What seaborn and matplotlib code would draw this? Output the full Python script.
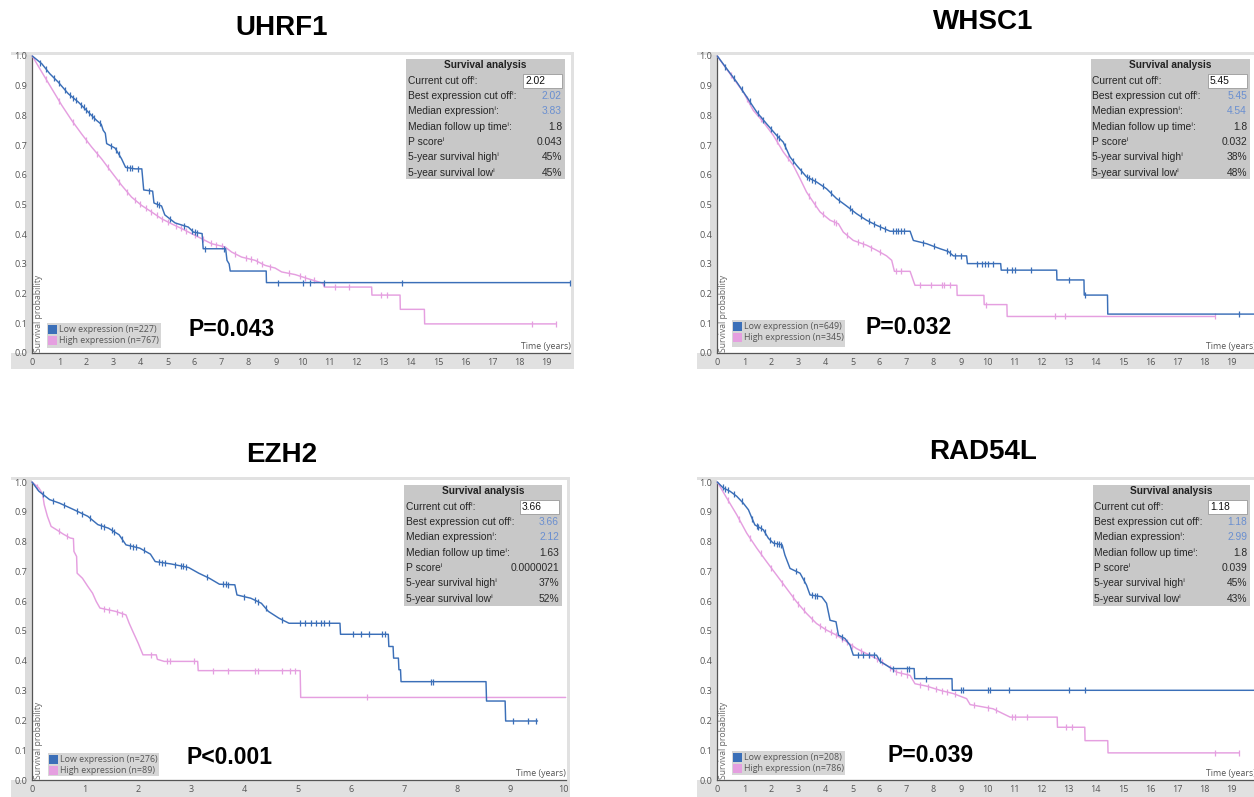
import numpy as np
import pandas as pd
import matplotlib
matplotlib.use("Agg")
import matplotlib.pyplot as plt
import seaborn as sns
from matplotlib.patches import Rectangle

# ------------------------------------------------------------------ data
genes = ["UHRF1", "WHSC1", "EZH2", "RAD54L"]
n_low = [227, 649, 276, 208]
n_high = [767, 345, 89, 786]
p_labels = ["P=0.043", "P=0.032", "P<0.001", "P=0.039"]
current_cutoff = ["2.02", "5.45", "3.66", "1.18"]
best_cutoff = ["2.02", "5.45", "3.66", "1.18"]
median_expr = ["3.83", "4.54", "2.12", "2.99"]
median_followup = ["1.8", "1.8", "1.63", "1.8"]
p_score = ["0.043", "0.032", "0.0000021", "0.039"]
surv5_high = ["45%", "38%", "37%", "45%"]
surv5_low = ["45%", "48%", "52%", "43%"]
x_tick_max = [19, 19, 10, 19]
x_lim_max = [19.9, 19.9, 10.05, 19.9]
y_ticks = [0.0, 0.1, 0.2, 0.3, 0.4, 0.5, 0.6, 0.7, 0.8, 0.9, 1.0]
info_labels = ["Current cut off\u2071:", "Best expression cut off\u2071:", "Median expression\u2071:",
               "Median follow up time\u2071:", "P score\u2071", "5-year survival high\u2071",
               "5-year survival low\u2071"]

# UHRF1
uhrf1_low_time = [0, 0.35, 0.65, 0.96, 1.33, 1.70, 2.07, 2.38, 2.55, 2.62, 2.70, 2.75, 3.06, 3.30, 3.45,
                  3.80, 4.05, 4.12, 4.45, 4.50, 4.78, 4.90, 5.28, 5.77, 5.96, 6.28, 6.32, 7.15, 7.20, 7.28,
                  7.32, 8.65, 8.66, 19.9]
uhrf1_low_surv = [1.0, 0.974, 0.94, 0.912, 0.873, 0.845, 0.811, 0.783, 0.77, 0.75, 0.74, 0.705, 0.69, 0.654, 0.625,
                  0.62, 0.62, 0.549, 0.545, 0.505, 0.495, 0.465, 0.438, 0.424, 0.407, 0.402, 0.351, 0.351, 0.312, 0.30,
                  0.276, 0.276, 0.237, 0.237]
uhrf1_high_time = [0, 0.35, 0.72, 1.09, 1.46, 1.82, 2.19, 2.56, 2.93, 3.30, 3.67, 4.04, 4.41, 4.78, 5.15, 5.52,
                   5.89, 6.26, 6.63, 7.13, 7.37, 7.74, 8.24, 8.61, 8.98, 9.22, 9.72, 10.2, 10.75, 10.8, 12.55,
                   12.56, 13.6, 13.61, 14.5, 14.51, 19.35]
uhrf1_high_surv = [1.0, 0.946, 0.89, 0.834, 0.783, 0.738, 0.694, 0.654, 0.609, 0.565, 0.525, 0.497, 0.475, 0.452,
                   0.435, 0.419, 0.402, 0.385, 0.368, 0.357, 0.340, 0.323, 0.312, 0.295, 0.286, 0.273, 0.264, 0.250,
                   0.235, 0.222, 0.222, 0.195, 0.195, 0.147, 0.147, 0.098, 0.098]
uhrf1_low_cens = [0.3, 0.5, 0.8, 1.0, 1.2, 1.4, 1.5, 1.6, 1.8, 1.9, 2.0, 2.1, 2.2, 2.3, 2.5, 2.9, 3.1, 3.2, 3.5,
                  3.6, 3.7, 3.9, 4.3, 4.6, 4.7, 5.1, 5.6, 5.9, 6.0, 6.1, 6.4, 7.1, 9.07, 10.0, 10.27, 10.77,
                  13.68, 19.9]
uhrf1_high_cens = [0.5, 1.0, 1.5, 2.0, 2.4, 2.8, 3.2, 3.5, 3.8, 4.0, 4.2, 4.4, 4.6, 4.8, 5.0, 5.3, 5.5, 5.7, 6.0,
                   6.3, 6.6, 6.8, 7.0, 7.5, 7.9, 8.1, 8.3, 8.5, 8.8, 9.5, 9.9, 10.1, 10.4, 11.2, 11.7, 12.9,
                   13.1, 18.47, 19.35]

# WHSC1
whsc1_low_time = [0, 0.35, 0.72, 1.09, 1.46, 1.82, 2.19, 2.44, 2.69, 2.93, 3.30, 3.67, 4.04, 4.41, 4.78, 5.15,
                  5.52, 5.89, 6.39, 7.13, 7.25, 7.74, 8.24, 8.54, 8.73, 9.22, 9.25, 10.48, 10.50, 12.55, 12.56,
                  13.56, 13.57, 14.43, 14.44, 19.9]
whsc1_low_surv = [1.0, 0.957, 0.912, 0.862, 0.811, 0.772, 0.733, 0.71, 0.66, 0.632, 0.593, 0.576, 0.553, 0.52,
                  0.495, 0.469, 0.447, 0.430, 0.41, 0.41, 0.379, 0.368, 0.351, 0.342, 0.327, 0.327, 0.301, 0.301,
                  0.279, 0.279, 0.246, 0.246, 0.195, 0.195, 0.131, 0.131]
whsc1_high_time = [0, 0.35, 0.96, 1.33, 1.70, 2.07, 2.44, 2.81, 3.06, 3.30, 3.55, 3.80, 4.17, 4.48, 4.66, 5.03,
                   5.52, 5.89, 6.26, 6.45, 6.55, 7.13, 7.31, 8.86, 8.87, 9.86, 9.87, 10.71, 10.72, 18.4]
whsc1_high_surv = [1.0, 0.955, 0.879, 0.817, 0.778, 0.733, 0.677, 0.632, 0.587, 0.542, 0.508, 0.475, 0.447, 0.435,
                   0.407, 0.379, 0.363, 0.346, 0.327, 0.312, 0.275, 0.275, 0.228, 0.228, 0.194, 0.194, 0.163,
                   0.163, 0.123, 0.123]
whsc1_low_cens = [0.3, 0.6, 0.9, 1.2, 1.5, 1.7, 2.0, 2.2, 2.3, 2.5, 2.8, 3.1, 3.3, 3.4, 3.5, 3.6, 3.9, 4.2, 4.5,
                  4.9, 5.0, 5.3, 5.6, 5.8, 6.0, 6.2, 6.5, 6.6, 6.7, 6.8, 6.9, 7.6, 8.0, 8.5, 8.6, 8.8, 9.0, 9.6,
                  9.8, 9.9, 10.0, 10.2, 10.7, 10.9, 11.0, 11.6, 13.02, 13.6, 19.3]
whsc1_high_cens = [0.5, 1.1, 1.6, 2.2, 2.6, 3.4, 3.6, 3.9, 4.3, 4.4, 4.8, 5.2, 5.4, 5.7, 6.0, 6.6, 6.8, 7.5, 7.9,
                   8.3, 8.4, 8.6, 9.95, 12.5, 12.85, 18.4]

# EZH2
ezh2_low_time = [0, 0.13, 0.33, 0.52, 0.79, 1.05, 1.24, 1.44, 1.64, 1.77, 2.03, 2.23, 2.32, 2.62, 2.95, 3.14,
                 3.34, 3.53, 3.82, 3.86, 4.12, 4.32, 4.45, 4.65, 4.84, 5.80, 5.81, 6.71, 6.72, 6.80, 6.81,
                 6.90, 6.91, 6.94, 6.95, 8.55, 8.56, 8.91, 8.92, 9.52]
ezh2_low_surv = [1.0, 0.969, 0.941, 0.929, 0.907, 0.885, 0.857, 0.845, 0.823, 0.789, 0.778, 0.758, 0.733, 0.725,
                 0.713, 0.694, 0.677, 0.657, 0.655, 0.621, 0.610, 0.593, 0.566, 0.543, 0.526, 0.526, 0.489, 0.489,
                 0.448, 0.448, 0.409, 0.409, 0.370, 0.370, 0.330, 0.330, 0.265, 0.265, 0.198, 0.198]
ezh2_high_time = [0, 0.13, 0.20, 0.23, 0.29, 0.36, 0.46, 0.59, 0.72, 0.78, 0.79, 0.84, 0.85, 0.95, 1.05, 1.14,
                  1.21, 1.28, 1.57, 1.77, 1.83, 1.90, 2.00, 2.09, 2.34, 2.36, 2.49, 3.12, 3.13, 5.05, 5.06, 10.05]
ezh2_high_surv = [1.0, 0.98, 0.96, 0.924, 0.885, 0.851, 0.84, 0.825, 0.812, 0.81, 0.767, 0.75, 0.694, 0.677,
                  0.650, 0.627, 0.599, 0.577, 0.566, 0.554, 0.526, 0.498, 0.459, 0.420, 0.420, 0.405, 0.398,
                  0.398, 0.367, 0.367, 0.277, 0.277]
ezh2_low_cens = [0.2, 0.4, 0.6, 0.85, 0.95, 1.1, 1.3, 1.35, 1.5, 1.55, 1.7, 1.85, 1.9, 1.95, 2.1, 2.4, 2.45, 2.5,
                 2.7, 2.8, 2.85, 2.9, 3.3, 3.6, 3.65, 3.7, 4.0, 4.2, 4.25, 4.4, 4.7, 5.05, 5.15, 5.25, 5.35, 5.45,
                 5.5, 5.6, 6.05, 6.2, 6.35, 6.6, 6.65, 7.52, 7.55, 9.05, 9.35, 9.5]
ezh2_high_cens = [0.1, 0.5, 0.65, 1.35, 1.45, 1.6, 1.7, 2.25, 2.55, 2.6, 3.05, 3.4, 3.7, 4.2, 4.25, 4.7, 4.85,
                  4.95, 6.3]

# RAD54L
rad54l_low_time = [0, 0.22, 0.47, 0.72, 0.96, 1.15, 1.28, 1.39, 1.70, 1.89, 2.07, 2.40, 2.50, 2.69, 3.06, 3.30,
                   3.43, 3.86, 4.04, 4.17, 4.39, 4.48, 4.72, 4.91, 5.03, 5.89, 6.02, 6.45, 7.28, 7.30, 8.68, 8.69,
                   19.9]
rad54l_low_surv = [1.0, 0.98, 0.969, 0.952, 0.929, 0.907, 0.879, 0.856, 0.84, 0.811, 0.795, 0.789, 0.755, 0.71,
                   0.694, 0.654, 0.621, 0.615, 0.593, 0.536, 0.531, 0.486, 0.475, 0.452, 0.419, 0.419, 0.398,
                   0.374, 0.374, 0.340, 0.340, 0.301, 0.301]
rad54l_high_time = [0, 0.35, 0.72, 1.09, 1.46, 1.82, 2.19, 2.56, 2.93, 3.30, 3.67, 4.04, 4.41, 4.78, 5.15, 5.52,
                    5.89, 6.26, 6.63, 7.13, 7.31, 7.74, 8.24, 8.73, 9.22, 9.35, 9.84, 10.2, 10.58, 10.83, 12.57,
                    12.58, 13.59, 13.60, 14.44, 14.45, 19.3]
rad54l_high_surv = [1.0, 0.946, 0.89, 0.828, 0.778, 0.733, 0.688, 0.643, 0.598, 0.559, 0.525, 0.503, 0.486,
                    0.464, 0.441, 0.424, 0.407, 0.385, 0.362, 0.351, 0.323, 0.315, 0.301, 0.290, 0.273, 0.253,
                    0.245, 0.239, 0.222, 0.211, 0.211, 0.177, 0.177, 0.132, 0.132, 0.091, 0.091]
rad54l_low_cens = [0.2, 0.3, 0.4, 0.6, 0.9, 1.3, 1.45, 1.5, 1.6, 1.75, 1.95, 2.1, 2.2, 2.3, 2.35, 2.9, 3.2, 3.5,
                   3.6, 3.7, 4.6, 5.2, 5.4, 5.6, 5.8, 6.0, 6.5, 7.0, 7.1, 7.7, 9.0, 9.1, 10.0, 10.1, 10.8, 13.0,
                   13.6, 19.9]
rad54l_high_cens = [0.4, 0.8, 1.2, 1.6, 2.0, 2.4, 2.8, 3.0, 3.2, 3.5, 3.8, 4.0, 4.2, 4.4, 4.6, 4.8, 5.0, 5.3,
                    5.6, 5.9, 6.1, 6.4, 6.6, 6.8, 7.0, 7.5, 7.8, 8.1, 8.3, 8.5, 8.8, 9.5, 10.0, 10.3, 10.9, 11.0,
                    11.46, 12.9, 13.1, 18.4, 19.3]

curves = [
    (uhrf1_low_time, uhrf1_low_surv, uhrf1_low_cens, uhrf1_high_time, uhrf1_high_surv, uhrf1_high_cens),
    (whsc1_low_time, whsc1_low_surv, whsc1_low_cens, whsc1_high_time, whsc1_high_surv, whsc1_high_cens),
    (ezh2_low_time, ezh2_low_surv, ezh2_low_cens, ezh2_high_time, ezh2_high_surv, ezh2_high_cens),
    (rad54l_low_time, rad54l_low_surv, rad54l_low_cens, rad54l_high_time, rad54l_high_surv, rad54l_high_cens),
]

# ------------------------------------------------------------------ layout (pixel positions)
W, H = 1254, 797
layout = [
    dict(frame=(11, 52, 574, 369), x0=32.3, ytop=56, ybot=353, ppy=27.04,
         info=(406, 59, 565, 179), legend=(47, 323, 161, 348), ptxt=(232, 329), title=(282, 28)),
    dict(frame=(697, 52, 1262, 369), x0=717.3, ytop=56, ybot=353, ppy=27.04,
         info=(1091, 59, 1250, 179), legend=(732, 320, 845, 347), ptxt=(909, 327), title=(983, 22)),
    dict(frame=(11, 477, 570, 805), x0=32.0, ytop=482, ybot=780, ppy=53.1,
         info=(404, 485, 562, 606), legend=(48, 753, 159, 776), ptxt=(230, 757), title=(282, 455)),
    dict(frame=(697, 477, 1262, 805), x0=717.3, ytop=482, ybot=780, ppy=27.04,
         info=(1093, 485, 1250, 606), legend=(732, 751, 845, 775), ptxt=(931, 756), title=(983, 452)),
]

BLUE = "#3b6fb8"
PINK = "#e59fe0"
ARIAL = ["Liberation Sans", "DejaVu Sans"]
SEGOE = ["Open Sans", "DejaVu Sans"]

sns.set_theme(style="white")
plt.rcParams["font.family"] = SEGOE

fig = plt.figure(figsize=(W / 100, H / 100), dpi=100)
fig.patch.set_facecolor("white")

bg = fig.add_axes([0, 0, 1, 1], zorder=0)
fg = fig.add_axes([0, 0, 1, 1], zorder=10)
for a in (bg, fg):
    a.set_xlim(0, W)
    a.set_ylim(H, 0)
    a.axis("off")
    a.patch.set_alpha(0)


def rect(a, l, t, r, b, fc, ec="none", lw=0, z=1):
    a.add_patch(Rectangle((l, t), r - l, b - t, facecolor=fc, edgecolor=ec, linewidth=lw, zorder=z))


for i, g in enumerate(genes):
    L = layout[i]
    fl, ft, fr, fb = L["frame"]
    # frame
    rect(bg, fl, ft, fr, fb, "#e1e1e1")
    rect(bg, fl, ft + 3, fr - 3, L["ybot"], "white", z=2)
    rect(bg, L["x0"] - 7, ft + 3, L["x0"], L["ybot"], "#dcdcdc", z=3)

    # main axes
    xmax = x_lim_max[i]
    right = L["x0"] + xmax * L["ppy"]
    ax = fig.add_axes([L["x0"] / W, 1 - L["ybot"] / H, (right - L["x0"]) / W, (L["ybot"] - L["ytop"]) / H],
                      zorder=5)
    ax.set_facecolor("none")

    lt, ls, lc, ht, hs, hc = curves[i]
    low_df = pd.DataFrame({"time": lt, "surv": ls})
    high_df = pd.DataFrame({"time": ht, "surv": hs})
    sns.lineplot(data=high_df, x="time", y="surv", ax=ax, color=PINK, lw=1.05, sort=False,
                 estimator=None, clip_on=False, zorder=3)
    sns.lineplot(data=low_df, x="time", y="surv", ax=ax, color=BLUE, lw=1.05, sort=False,
                 estimator=None, clip_on=False, zorder=4)
    hc_df = pd.DataFrame({"time": hc, "surv": np.interp(hc, ht, hs)})
    lc_df = pd.DataFrame({"time": lc, "surv": np.interp(lc, lt, ls)})
    sns.scatterplot(data=hc_df, x="time", y="surv", ax=ax, marker="|", s=18, color=PINK,
                    linewidth=0.9, clip_on=False, zorder=3)
    sns.scatterplot(data=lc_df, x="time", y="surv", ax=ax, marker="|", s=18, color=BLUE,
                    linewidth=0.9, clip_on=False, zorder=4)

    ax.set_xlim(0, xmax)
    ax.set_ylim(0, 1.0)
    ax.set_xticks(range(0, x_tick_max[i] + 1))
    ax.set_xticklabels([str(v) for v in range(0, x_tick_max[i] + 1)])
    ax.set_yticks(y_ticks)
    ax.set_yticklabels([f"{v:.1f}" for v in y_ticks])
    ax.set_xlabel("")
    ax.set_ylabel("")
    for s in ("top", "right"):
        ax.spines[s].set_visible(False)
    for s in ("left", "bottom"):
        ax.spines[s].set_color("#555555")
        ax.spines[s].set_linewidth(0.9)
    ax.tick_params(axis="both", direction="out", length=3.0, width=0.8, color="#444444",
                   labelsize=6.5, labelcolor="#555555", pad=0.6)
    ax.grid(False)
    ax.text(xmax, 0.008, "Time (years)", ha="right", va="bottom", fontsize=6.3, color="#555555",
            family=SEGOE)

    # survival probability label
    fg.text(L["x0"] + 6.5, L["ybot"] - 1, "Survival probability", rotation=90, ha="center",
            va="bottom", fontsize=6.2, color="#666666", family=SEGOE)

    # legend
    gl, gt, gr, gb = L["legend"]
    rect(fg, gl, gt, gr, gb, "#d6d6d6")
    r1 = gt + 6.5
    r2 = gt + 17.5
    rect(fg, gl + 1, r1 - 4.5, gl + 10, r1 + 4.5, BLUE, z=2)
    rect(fg, gl + 1, r2 - 4.5, gl + 10, r2 + 4.5, PINK, z=2)
    fg.text(gl + 12, r1, f"Low expression (n={n_low[i]})", ha="left", va="center", fontsize=6.4,
            color="#555555", family=SEGOE)
    fg.text(gl + 12, r2, f"High expression (n={n_high[i]})", ha="left", va="center", fontsize=6.4,
            color="#555555", family=SEGOE)

    # P text
    fg.text(L["ptxt"][0], L["ptxt"][1], p_labels[i], ha="center", va="center", fontsize=16.5,
            fontweight="bold", color="black", family=ARIAL)

    # title
    fg.text(L["title"][0], L["title"][1], g, ha="center", va="center", fontsize=20,
            fontweight="bold", color="black", family=ARIAL)

    # info box
    il, it, ir, ib = L["info"]
    rect(fg, il, it, ir, ib, "#c8c8c8")
    fg.text((il + ir) / 2, it + 6, "Survival analysis", ha="center", va="center", fontsize=7.3,
            fontweight="bold", color="#222222", family=ARIAL)
    values = [current_cutoff[i], best_cutoff[i], median_expr[i], median_followup[i], p_score[i],
              surv5_high[i], surv5_low[i]]
    for k, (lab, val) in enumerate(zip(info_labels, values)):
        ry = it + 21.7 + 15.3 * k
        fg.text(il + 1.5, ry, lab, ha="left", va="center", fontsize=7.4, color="#262626", family=ARIAL)
        if k == 0:
            rect(fg, ir - 42, ry - 7, ir - 3, ry + 7, "white", ec="#9a9a9a", lw=0.6, z=2)
            fg.text(ir - 40, ry, val, ha="left", va="center", fontsize=7.4, color="#111111",
                    family=ARIAL, zorder=3)
        else:
            col = "#6a8fd0" if k in (1, 2) else "#2a2a2a"
            fg.text(ir - 3, ry, val, ha="right", va="center", fontsize=7.4, color=col, family=ARIAL)

fig.savefig("out.png", dpi=100, facecolor="white")
